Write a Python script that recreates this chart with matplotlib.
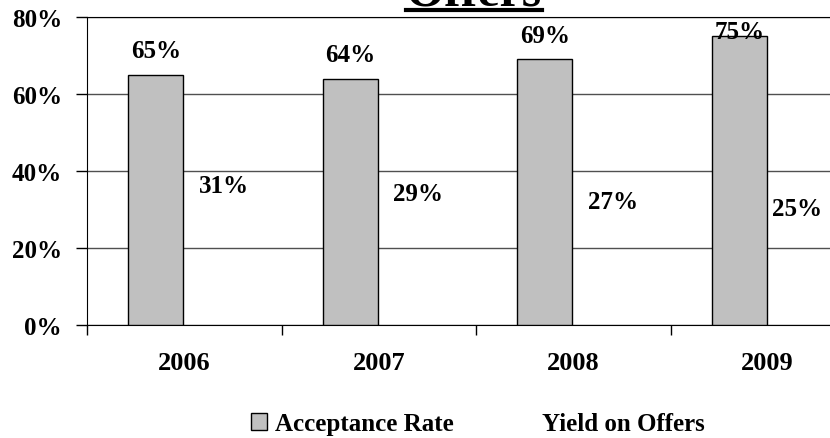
import matplotlib
matplotlib.use("Agg")
import matplotlib.pyplot as plt
import numpy as np
from matplotlib.patches import Patch
from matplotlib.lines import Line2D

plt.rcParams['font.family'] = ['Liberation Serif', 'DejaVu Serif']
plt.rcParams['font.weight'] = 'bold'

# data
years = ['2006', '2007', '2008', '2009']
acceptance = [65, 64, 69, 75]
yield_offers = [31, 29, 27, 25]
y_ticks = [0, 20, 40, 60, 80]

fig = plt.figure(figsize=(8.3, 4.39), dpi=100)
# plot area runs past the right edge of the picture, like the original crop
ax = fig.add_axes([87 / 830, 113.3 / 439, 778 / 830, 307.7 / 439])

x = np.arange(len(years))
w = 0.283
b1 = ax.bar(x - w / 2 - 0.004, acceptance, w, color='#C0C0C0', edgecolor='black',
            linewidth=1, zorder=3, label='Acceptance Rate')
# second series has no visible fill in the original
b2 = ax.bar(x + w / 2 - 0.004, yield_offers, w, fill=False, edgecolor='none',
            linewidth=0, zorder=3, label='Yield on Offers')

ax.set_xlim(-0.5, len(years) - 0.5)
ax.set_ylim(0, 80)

# grid
ax.set_yticks(y_ticks)
ax.set_yticklabels([f'{v}%' for v in y_ticks], fontsize=18, fontweight='bold')
ax.yaxis.grid(True, color='#505050', linewidth=1, zorder=0)
ax.tick_params(axis='y', direction='out', length=8, width=1, pad=10)

# ticks at category borders, labels at the centres
ax.set_xticks(np.arange(len(years) + 1) - 0.5)
ax.set_xticklabels([])
ax.set_xticks(x, minor=True)
ax.set_xticklabels(years, minor=True, fontsize=19, fontweight='bold')
ax.tick_params(axis='x', which='major', direction='out', length=7, width=1)
ax.tick_params(axis='x', which='minor', length=0, pad=19)

ax.spines['right'].set_visible(False)
for s in ['top', 'left', 'bottom']:
    ax.spines[s].set_color('black')

# value labels
labels = []
for bar, v in zip(b1, acceptance):
    t = ax.annotate(f'{v}%', xy=(bar.get_x() + bar.get_width() / 2, v),
                    xytext=(0, 9), textcoords='offset points', ha='center',
                    va='bottom', fontsize=18, fontweight='bold', zorder=5)
    labels.append(t)
for bar, v in zip(b2, yield_offers):
    t = ax.annotate(f'{v}%', xy=(bar.get_x() + bar.get_width() / 2 + 0.065, v),
                    xytext=(0, 6), textcoords='offset points', ha='center',
                    va='bottom', fontsize=18, fontweight='bold', zorder=5)
    labels.append(t)

# title (only the last line of it shows, cut off at the top)
title = fig.text(474 / 830, 1 - 6 / 439, 'Offers', ha='center', va='baseline',
                 fontsize=36, fontweight='bold')

leg = fig.legend(handles=[Patch(facecolor='#C0C0C0', edgecolor='black', linewidth=1),
                          Patch(facecolor='white', edgecolor='none')],
                 labels=['Acceptance Rate', 'Yield on Offers'],
                 loc='center', bbox_to_anchor=(478 / 830, 1 - 425 / 439), ncol=2,
                 frameon=False, fontsize=18, handlelength=0.65, handleheight=0.65,
                 handletextpad=0.3, columnspacing=2.6)
for t in leg.get_texts():
    t.set_fontweight('bold')

# keep labels inside the picture, as the original chart did
fig.canvas.draw()
r = fig.canvas.get_renderer()
ax_top = ax.get_window_extent(r).y1
for t in labels:
    bb = t.get_window_extent(r)
    dx, dy = 0, 0
    if bb.x1 > fig.bbox.width - 8:
        dx = fig.bbox.width - 8 - bb.x1
    if bb.y1 > ax_top - 3:
        dy = ax_top - 3 - bb.y1
    if dx or dy:
        ox, oy = t.xyann
        t.xyann = (ox + dx * 72 / fig.dpi, oy + dy * 72 / fig.dpi)

# underline under the title
bb = title.get_window_extent(r)
fig.add_artist(Line2D([bb.x0 / fig.bbox.width, bb.x1 / fig.bbox.width],
                      [1 - 11 / 439, 1 - 11 / 439], transform=fig.transFigure,
                      color='black', linewidth=3))

fig.savefig('out.png', dpi=100)
